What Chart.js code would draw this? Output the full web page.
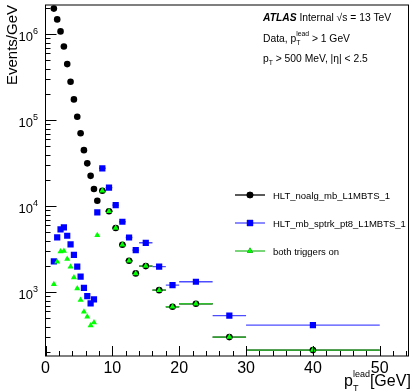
<!DOCTYPE html>
<html>
<head>
<meta charset="utf-8">
<script src="https://cdn.jsdelivr.net/npm/chart.js@4.4.1/dist/chart.umd.min.js"></script>
<style>
  html, body { margin: 0; padding: 0; background: #fff; }
  #wrap { width: 413px; height: 392px; }
</style>
</head>
<body>
<div id="wrap"><canvas id="c" width="413" height="392"></canvas></div>
<script>
// bins (GeV): centre and half width
const binCentres = [1.25, 1.75, 2.25, 2.75, 3.25, 3.75, 4.25, 4.75, 5.25, 5.75, 6.25, 6.75, 7.25, 7.75,
                    8.5, 9.5, 10.5, 11.5, 12.5, 13.5, 15, 17, 19, 22.5, 27.5, 40];
const binHalfWidths = [0.25, 0.25, 0.25, 0.25, 0.25, 0.25, 0.25, 0.25, 0.25, 0.25, 0.25, 0.25, 0.25, 0.25,
                       0.5, 0.5, 0.5, 0.5, 0.5, 0.5, 1, 1, 1, 2.5, 2.5, 10];

// events / GeV
const noalg = [1.99e6, 1.49e6, 1.08e6, 7.2e5, 4.5e5, 2.81e5, 1.75e5, 1.10e5, 7.06e4, 4.5e4, 3.16e4, 2.26e4, 1.59e4, 1.16e4,
               1.52e4, 8770, 5590, 3580, 2330, 1660, 2020, 1060, 680, 737, 302, 213];
const sptrk = [2290, 4360, 5400, 5700, 4550, 3620, 2720, 1990, 1520, 1130, 906, 745, 829, 8510,
               27700, 16500, 10350, 6620, 4340, 3100, 3770, 1990, 1216, 1328, 535, 417];
const both  = [1240, 2270, 2980, 3020, 2440, 1990, 1490, 1110, 814, 595, 520, 411, 445, 4610,
               15200, 8770, 5590, 3580, 2330, 1660, 2020, 1060, 680, 737, 302, 213];

const seriesNames = ['HLT_noalg_mb_L1MBTS_1', 'HLT_mb_sptrk_pt8_L1MBTS_1', 'both triggers on'];
const xTicks = [0, 10, 20, 30, 40, 50];
const yTickExponents = [3, 4, 5, 6];

const FONT = '"Liberation Sans", Arial, Helvetica, sans-serif';
const font = (size, style) => (style ? style + ' ' : '') + size + 'px ' + FONT;

function points(values) {
  return values.map((v, i) => ({ x: binCentres[i], y: v }));
}

// horizontal bin-width bars, drawn under the markers
const binBars = {
  id: 'binBars',
  beforeDatasetsDraw(chart) {
    const { ctx, chartArea: a, scales: { x, y } } = chart;
    ctx.save();
    ctx.beginPath();
    ctx.rect(a.left, a.top, a.right - a.left, a.bottom - a.top);
    ctx.clip();
    chart.data.datasets.forEach(ds => {
      ctx.strokeStyle = ds.barColor;
      ctx.lineWidth = 1.3;
      ds.data.forEach((p, i) => {
        const py = y.getPixelForValue(p.y);
        ctx.beginPath();
        ctx.moveTo(x.getPixelForValue(p.x - binHalfWidths[i]), py);
        ctx.lineTo(x.getPixelForValue(p.x + binHalfWidths[i]), py);
        ctx.stroke();
      });
    });
    ctx.restore();
  }
};

// ROOT-like frame, inward ticks, labels, texts, legend
const atlasFrame = {
  id: 'atlasFrame',
  afterDraw(chart) {
    const { ctx, chartArea: a, scales: { x, y } } = chart;
    ctx.save();
    ctx.strokeStyle = '#000';
    ctx.lineWidth = 1;
    ctx.strokeRect(a.left, a.top, a.right - a.left, a.bottom - a.top);

    // x ticks
    ctx.beginPath();
    for (let v = 0; v <= x.max; v += 2) {
      const px = Math.round(x.getPixelForValue(v)) + 0.5;
      const len = v % 10 === 0 ? 10 : 5;
      ctx.moveTo(px, a.bottom);
      ctx.lineTo(px, a.bottom - len);
    }
    // y ticks
    for (let e = 2; e <= 6; e++) {
      for (let m = 1; m <= 9; m++) {
        const v = m * Math.pow(10, e);
        if (v < y.min || v > y.max) continue;
        const py = Math.round(y.getPixelForValue(v)) + 0.5;
        ctx.moveTo(a.left, py);
        ctx.lineTo(a.left + (m === 1 ? 11 : 5), py);
      }
    }
    ctx.stroke();

    ctx.fillStyle = '#000';
    // x tick labels
    ctx.font = font(16);
    ctx.textAlign = 'center';
    ctx.textBaseline = 'alphabetic';
    xTicks.forEach(v => ctx.fillText(String(v), x.getPixelForValue(v), 373));

    // y tick labels 10^n
    ctx.textAlign = 'left';
    yTickExponents.forEach(e => {
      const py = y.getPixelForValue(Math.pow(10, e));
      ctx.font = font(13);
      const w1 = ctx.measureText('10').width;
      ctx.font = font(9);
      const w2 = ctx.measureText(String(e)).width;
      const x0 = 38 - w1 - w2;
      ctx.font = font(13);
      ctx.fillText('10', x0, py + 6.5);
      ctx.font = font(9);
      ctx.fillText(String(e), x0 + w1, py - 0.5);
    });

    // axis titles
    ctx.save();
    ctx.translate(17, 5);
    ctx.rotate(-Math.PI / 2);
    ctx.textAlign = 'right';
    ctx.font = font(15);
    ctx.fillText('Events/GeV', 0, 0);
    ctx.restore();

    ctx.textAlign = 'left';
    let tx = 344;
    ctx.font = font(16);
    ctx.fillText('p', tx, 386);
    tx += ctx.measureText('p').width;
    ctx.font = font(9);
    ctx.fillText('T', tx, 391);
    ctx.fillText('lead', tx, 377);
    tx += ctx.measureText('lead').width;
    ctx.font = font(16);
    ctx.fillText('[GeV]', tx, 386);

    // label block
    const lx = 263;
    const fs = 10.3;
    ctx.font = font(fs, 'italic bold');
    ctx.fillText('ATLAS', lx, 21);
    let cx = lx + ctx.measureText('ATLAS').width;
    ctx.font = font(fs);
    ctx.fillText(' Internal \u221As = 13 TeV', cx, 21);

    ctx.fillText('Data, p', lx, 42);
    cx = lx + ctx.measureText('Data, p').width;
    ctx.font = font(6.8);
    ctx.fillText('T', cx, 45);
    ctx.fillText('lead', cx, 36);
    cx += ctx.measureText('lead').width;
    ctx.font = font(fs);
    ctx.fillText(' > 1 GeV', cx, 42);

    ctx.fillText('p', lx, 62);
    cx = lx + ctx.measureText('p').width;
    ctx.font = font(6.8);
    ctx.fillText('T', cx, 65);
    cx += ctx.measureText('T').width;
    ctx.font = font(fs);
    ctx.fillText(' > 500 MeV, |\u03B7| < 2.5', cx, 62);

    // legend
    const legY = [195, 223, 251];
    chart.data.datasets.forEach((ds, i) => {
      const ly = legY[i];
      ctx.strokeStyle = ds.barColor;
      ctx.lineWidth = 1.3;
      ctx.beginPath();
      ctx.moveTo(235, ly);
      ctx.lineTo(265, ly);
      ctx.stroke();
      Chart.helpers.drawPoint(ctx, {
        pointStyle: ds.pointStyle, radius: ds.pointRadius, borderWidth: 0
      }, 250, ly);
      ctx.fillStyle = ds.backgroundColor;
      ctx.fill();
      ctx.fillStyle = '#000';
      ctx.font = font(9.5);
      ctx.fillText(ds.label, 273, ly + 3.5);
    });
    ctx.restore();
  }
};

new Chart(document.getElementById('c'), {
  type: 'scatter',
  data: {
    datasets: [
      { label: seriesNames[0], data: points(noalg), pointStyle: 'circle', pointRadius: 3.3,
        backgroundColor: '#000', borderColor: '#000', borderWidth: 0, barColor: '#000', order: 2 },
      { label: seriesNames[1], data: points(sptrk), pointStyle: 'rect', pointRadius: 4.4,
        backgroundColor: '#0000ff', borderColor: '#0000ff', borderWidth: 0, barColor: '#4d4dff', order: 1 },
      { label: seriesNames[2], data: points(both), pointStyle: 'triangle', pointRadius: 3.5,
        backgroundColor: '#00ff00', borderColor: '#00ff00', borderWidth: 0, barColor: '#2fbf2f', order: 0 }
    ]
  },
  options: {
    responsive: false,
    animation: false,
    devicePixelRatio: 1,
    layout: { padding: { top: 5, right: 4.5, left: 0, bottom: 0 } },
    plugins: { legend: { display: false }, tooltip: { enabled: false } },
    scales: {
      x: {
        type: 'linear', min: 0, max: 54.3,
        ticks: { display: false }, grid: { display: false }, border: { display: false },
        afterFit(s) { s.height = 36; }
      },
      y: {
        type: 'logarithmic', min: 182, max: 2.19e6,
        ticks: { display: false }, grid: { display: false }, border: { display: false },
        afterFit(s) { s.width = 45.5; }
      }
    }
  },
  plugins: [binBars, atlasFrame]
});
</script>
</body>
</html>
